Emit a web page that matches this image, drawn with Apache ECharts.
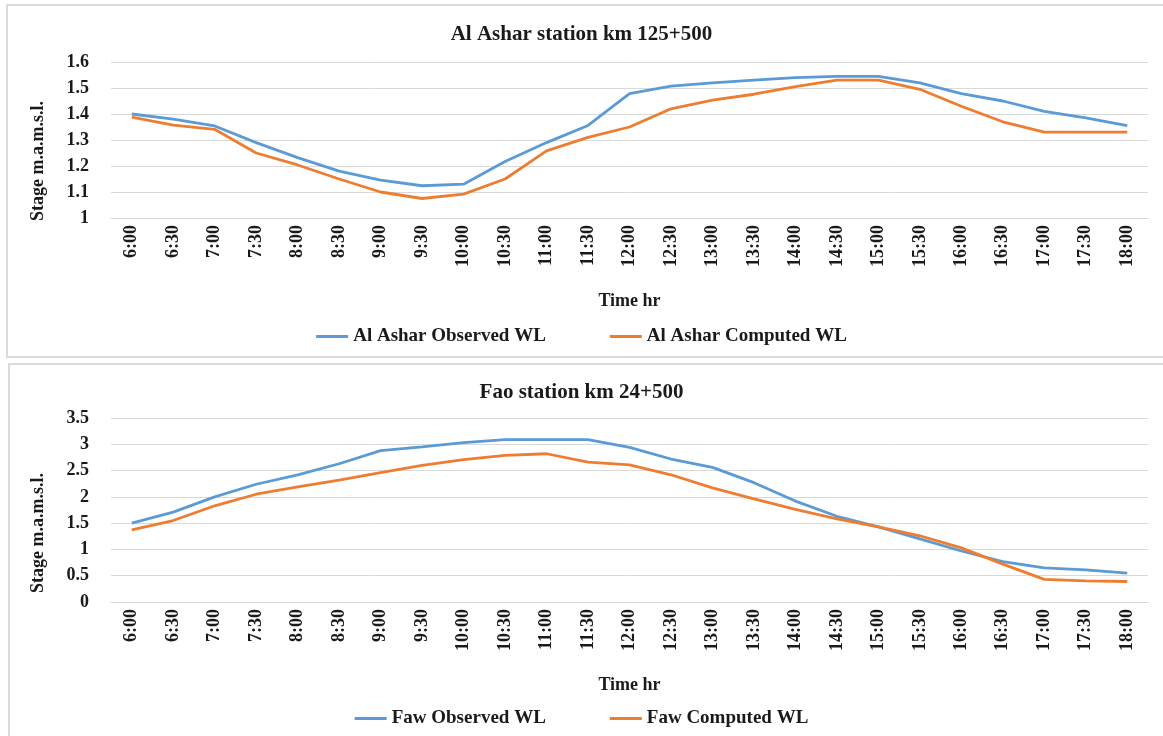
<!DOCTYPE html>
<html>
<head>
<meta charset="utf-8">
<script src="https://cdn.jsdelivr.net/npm/echarts@6/dist/echarts.min.js"></script>
<style>
html,body{margin:0;padding:0;background:#fff;}
#main{width:1163px;height:736px;}
</style>
</head>
<body>
<div id="main"></div>
<script>
const times = ['6:00','6:30','7:00','7:30','8:00','8:30','9:00','9:30','10:00','10:30','11:00','11:30','12:00','12:30','13:00','13:30','14:00','14:30','15:00','15:30','16:00','16:30','17:00','17:30','18:00'];
const asharObserved = [1.40,1.38,1.354,1.29,1.232,1.18,1.146,1.124,1.13,1.217,1.29,1.356,1.478,1.507,1.52,1.53,1.54,1.545,1.545,1.52,1.478,1.45,1.41,1.385,1.355];
const asharComputed = [1.388,1.357,1.341,1.25,1.204,1.15,1.10,1.075,1.092,1.15,1.258,1.31,1.35,1.42,1.453,1.476,1.505,1.53,1.53,1.495,1.43,1.37,1.33,1.33,1.33];
const fawObserved = [1.50,1.71,2.0,2.24,2.42,2.63,2.88,2.95,3.03,3.09,3.09,3.09,2.94,2.72,2.56,2.27,1.92,1.63,1.43,1.2,0.97,0.77,0.65,0.61,0.55];
const fawComputed = [1.37,1.55,1.83,2.05,2.19,2.32,2.46,2.6,2.71,2.79,2.82,2.66,2.61,2.42,2.17,1.96,1.76,1.58,1.43,1.26,1.03,0.72,0.43,0.40,0.39];
const topTitle = 'Al Ashar station km 125+500';
const bottomTitle = 'Fao station km 24+500';
const yName = 'Stage m.a.m.s.l.';
const xName = 'Time hr';

const FONT = "'Liberation Serif','Times New Roman',serif";
const TXT = '#1a1a1a';
const BLUE = '#5b9bd5';
const ORANGE = '#ed7d31';
const GRIDC = '#d9d9d9';

function xAxis(gi){
  return {
    type:'category', gridIndex:gi, data:times, boundaryGap:true,
    axisLine:{lineStyle:{color:GRIDC,width:1}}, axisTick:{show:false},
    axisLabel:{rotate:90, interval:0, margin:7, color:TXT, fontFamily:FONT, fontWeight:'bold', fontSize:18},
    name:xName, nameLocation:'middle', nameGap:74,
    nameTextStyle:{color:TXT, fontFamily:FONT, fontWeight:'bold', fontSize:18}
  };
}
function yAxis(gi,min,max,interval,shift){
  return {
    type:'value', gridIndex:gi, min:min, max:max, interval:interval,
    axisLine:{show:false}, axisTick:{show:false},
    splitLine:{lineStyle:{color:GRIDC,width:1}},
    axisLabel:{margin:22, color:TXT, fontFamily:FONT, fontWeight:'bold', fontSize:18},
    name:yName, nameLocation:'middle', nameGap:64,
    nameTextStyle:{color:TXT, fontFamily:FONT, fontWeight:'bold', fontSize:18, padding:[0,shift,0,0]}
  };
}
function line(name,data,color,gi){
  return {type:'line', name:name, data:data, xAxisIndex:gi, yAxisIndex:gi,
    symbol:'none', smooth:false, lineStyle:{color:color,width:2.8}, itemStyle:{color:color}};
}
const chart = echarts.init(document.getElementById('main'));
chart.setOption({
  animation:false,
  backgroundColor:'#fff',
  graphic:[
    {type:'rect', shape:{x:7,y:5,width:1170,height:352}, style:{fill:'none',stroke:'#dadada',lineWidth:2}, z:-1},
    {type:'rect', shape:{x:9,y:364,width:1170,height:400}, style:{fill:'none',stroke:'#dadada',lineWidth:2}, z:-1}
  ],
  title:[
    {text:topTitle, left:'center', top:19, textStyle:{color:TXT,fontFamily:FONT,fontWeight:'bold',fontSize:21}},
    {text:bottomTitle, left:'center', top:377, textStyle:{color:TXT,fontFamily:FONT,fontWeight:'bold',fontSize:21}}
  ],
  legend:[
    {top:322, left:'center', itemGap:64, itemWidth:32, itemHeight:3, icon:'rect',
     data:['Al Ashar Observed WL','Al Ashar Computed WL'],
     textStyle:{color:TXT,fontFamily:FONT,fontWeight:'bold',fontSize:19}},
    {top:704, left:'center', itemGap:64, itemWidth:32, itemHeight:3, icon:'rect',
     data:['Faw Observed WL','Faw Computed WL'],
     textStyle:{color:TXT,fontFamily:FONT,fontWeight:'bold',fontSize:19}}
  ],
  grid:[
    {left:111, right:15, top:62, height:156},
    {left:111, right:15, top:418, height:184}
  ],
  xAxis:[xAxis(0), xAxis(1)],
  yAxis:[yAxis(0,1,1.6,0.1,42), yAxis(1,0,3.5,0.5,46)],
  series:[
    line('Al Ashar Observed WL', asharObserved, BLUE, 0),
    line('Al Ashar Computed WL', asharComputed, ORANGE, 0),
    line('Faw Observed WL', fawObserved, BLUE, 1),
    line('Faw Computed WL', fawComputed, ORANGE, 1)
  ]
});
</script>
</body>
</html>
